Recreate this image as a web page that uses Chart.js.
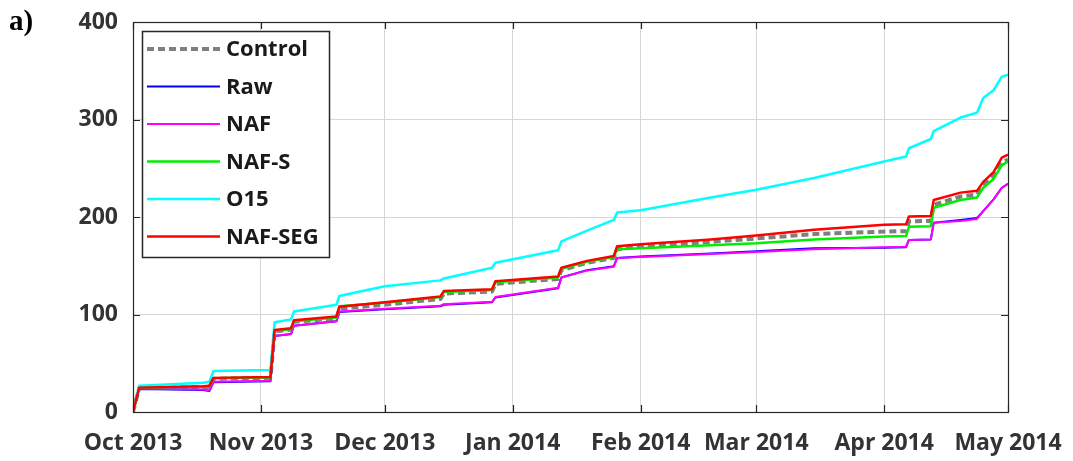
<!DOCTYPE html>
<html>
<head>
<meta charset="utf-8">
<script src="https://cdn.jsdelivr.net/npm/chart.js@4.4.0/dist/chart.umd.min.js"></script>
<style>
html, body { margin: 0; padding: 0; background: #fff; }
#wrap { position: relative; width: 1073px; height: 461px; }
#grafica { display: block; }
#panel { position: absolute; left: 9px; top: 4px; font: bold 29px "Liberation Serif", "Times New Roman", serif; color: #000; }
</style>
</head>
<body>
<div id="wrap">
  <canvas id="grafica" width="1073" height="461"></canvas>
  <div id="panel">a)</div>
</div>
<script>
// Dias desde el 1 de octubre de 2013
const dias = [0, 1.5, 17, 18.5, 19.5, 33.3, 34.3, 38.3, 39, 49.3, 50, 61, 74.5, 75.3, 87, 87.8, 103, 103.8, 110, 116.5, 117.3, 123, 140, 151, 165, 182, 187.3, 188, 193.3, 194, 200.5, 204.5, 206, 208.5, 210.5, 212];

// Series (valores acumulados)
const control = [0, 24.5, 25.5, 26, 34, 35, 82.5, 84.5, 92.5, 96, 106, 110, 116, 121.5, 123.5, 131.5, 136.5, 145.5, 153, 158, 167, 169.5, 174.5, 178, 182.5, 185, 185.5, 195.5, 196, 212.5, 221, 223, 232, 242.5, 256, 259];
const raw     = [0, 23.5, 22.5, 21.5, 30.5, 31.5, 78, 80, 88.5, 93, 102.5, 105.5, 108.5, 110, 112.5, 117.5, 127, 138, 145.5, 149.5, 158, 159.5, 162.5, 165, 168, 168.5, 169, 176.5, 177, 194, 197, 199, 206, 218, 230, 234];
const naf     = [0, 24, 23, 22, 31, 32, 78, 80, 88.5, 93, 103, 106, 109, 110.5, 113, 118, 127.5, 138, 145, 149, 158, 159, 162, 164, 167, 169, 169.5, 176.5, 177, 194, 196, 198, 206, 218, 230, 234];
const nafS    = [0, 25, 26, 26.5, 34.5, 35.5, 83, 85, 93, 97, 108.5, 112, 118, 123, 125, 133, 138, 147, 154, 159, 167, 168, 171, 173, 177, 180, 180.5, 190, 190.5, 209.5, 217.5, 220, 230, 239, 253, 257];
const o15     = [0, 27, 30, 31, 42, 43, 92, 95, 103, 110, 119, 129, 135, 137, 148, 153, 166, 175, 186, 197, 204.5, 207, 220, 228, 240, 257, 262, 270.5, 280, 288, 302, 307, 322, 330, 344, 346];
const nafSeg  = [0, 25, 26.5, 27, 35, 36, 84, 86, 94, 98, 108, 112.5, 118.5, 124, 126, 134, 139, 148, 155, 160, 170, 172, 177, 181, 187, 192, 192.5, 200.5, 201, 217.5, 225, 227, 236, 246, 261, 264];

// Etiquetas de los ejes
const meses = ['Oct 2013', 'Nov 2013', 'Dec 2013', 'Jan 2014', 'Feb 2014', 'Mar 2014', 'Apr 2014', 'May 2014'];
const diasMes = [0, 31, 61, 92, 123, 151, 182, 212];
const marcasY = [0, 100, 200, 300, 400];

const fuente = { family: '"Open Sans", "DejaVu Sans", sans-serif', size: 23, weight: 'bold' };

function puntos(valores) {
  return dias.map((d, i) => ({ x: d, y: valores[i] }));
}

// Marco y marcas hacia dentro (estilo MATLAB)
const marco = {
  id: 'marco',
  afterDatasetsDraw(chart) {
    const ctx = chart.ctx;
    const a = chart.chartArea;
    const sx = chart.scales.x, sy = chart.scales.y;
    ctx.save();
    ctx.strokeStyle = '#262626';
    ctx.lineWidth = 1.2;
    ctx.beginPath();
    diasMes.forEach(v => {
      const px = Math.round(sx.getPixelForValue(v)) + 0.5;
      ctx.moveTo(px, a.bottom); ctx.lineTo(px, a.bottom - 7);
      ctx.moveTo(px, a.top); ctx.lineTo(px, a.top + 7);
    });
    marcasY.forEach(v => {
      const py = Math.round(sy.getPixelForValue(v)) + 0.5;
      ctx.moveTo(a.left, py); ctx.lineTo(a.left + 7, py);
      ctx.moveTo(a.right, py); ctx.lineTo(a.right - 7, py);
    });
    ctx.stroke();
    ctx.strokeRect(a.left + 0.5, a.top + 0.5, a.right - a.left, a.bottom - a.top);
    ctx.restore();
  }
};

// Leyenda dentro del area del grafico
const leyenda = {
  id: 'leyenda',
  afterDraw(chart) {
    const ctx = chart.ctx;
    const a = chart.chartArea;
    const x0 = a.left + 9, y0 = a.top + 9, w = 187, h = 226;
    ctx.save();
    ctx.fillStyle = '#fff';
    ctx.fillRect(x0, y0, w, h);
    ctx.strokeStyle = '#262626';
    ctx.lineWidth = 1.5;
    ctx.strokeRect(x0 + 0.5, y0 + 0.5, w, h);
    ctx.font = 'bold 22px "Open Sans", "DejaVu Sans", sans-serif';
    ctx.textBaseline = 'middle';
    chart.data.datasets.forEach((ds, i) => {
      const y = y0 + 18 + i * 37.5;
      ctx.beginPath();
      ctx.strokeStyle = ds.borderColor;
      ctx.lineWidth = ds.borderWidth;
      ctx.setLineDash(ds.borderDash || []);
      ctx.moveTo(x0 + 5, y);
      ctx.lineTo(x0 + 78, y);
      ctx.stroke();
      ctx.setLineDash([]);
      ctx.fillStyle = '#1a1a1a';
      ctx.fillText(ds.label, x0 + 84, y + 1);
    });
    ctx.restore();
  }
};

const grafica = new Chart(document.getElementById('grafica'), {
  type: 'line',
  data: {
    datasets: [
      { label: 'Control', data: puntos(control), borderColor: '#7f7f7f', borderWidth: 4, borderDash: [7, 4], order: 6 },
      { label: 'Raw', data: puntos(raw), borderColor: '#0000ff', borderWidth: 2, order: 5 },
      { label: 'NAF', data: puntos(naf), borderColor: '#ff00ff', borderWidth: 2, order: 4 },
      { label: 'NAF-S', data: puntos(nafS), borderColor: '#00ee00', borderWidth: 2.5, order: 3 },
      { label: 'O15', data: puntos(o15), borderColor: '#00ffff', borderWidth: 2.5, order: 2 },
      { label: 'NAF-SEG', data: puntos(nafSeg), borderColor: '#ff0000', borderWidth: 2.5, order: 1 }
    ]
  },
  options: {
    responsive: false,
    animation: false,
    devicePixelRatio: 1,
    layout: { padding: { left: 0, right: 65, top: 22, bottom: 0 } },
    elements: { point: { radius: 0 }, line: { tension: 0, fill: false, borderJoinStyle: 'round' } },
    plugins: { legend: { display: false }, tooltip: { enabled: false } },
    scales: {
      x: {
        type: 'linear',
        min: 0,
        max: 212,
        afterBuildTicks(scale) { scale.ticks = diasMes.map(v => ({ value: v })); },
        afterFit(scale) { scale.height = 49; scale.paddingLeft = 0; scale.paddingRight = 0; },
        grid: { color: '#d6d6d6', lineWidth: 1, drawTicks: false },
        border: { display: false },
        ticks: {
          autoSkip: false,
          maxRotation: 0,
          padding: 18,
          color: '#333',
          font: fuente,
          callback(value) { const i = diasMes.indexOf(value); return i >= 0 ? meses[i] : ''; }
        }
      },
      y: {
        min: 0,
        max: 400,
        afterBuildTicks(scale) { scale.ticks = marcasY.map(v => ({ value: v })); },
        afterFit(scale) { scale.width = 133; scale.paddingTop = 0; scale.paddingBottom = 0; },
        grid: { color: '#d6d6d6', lineWidth: 1, drawTicks: false },
        border: { display: false },
        ticks: { padding: 15, color: '#333', font: fuente }
      }
    }
  },
  plugins: [marco, leyenda]
});
</script>
</body>
</html>
